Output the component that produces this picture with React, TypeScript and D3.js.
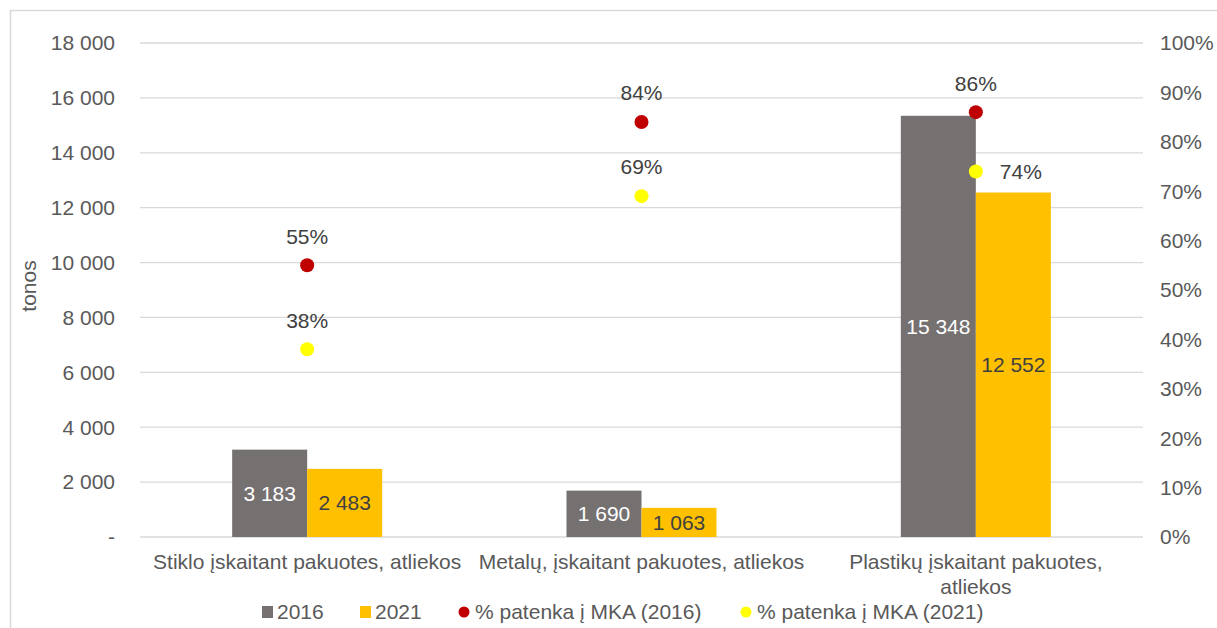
import React from "react";
import * as d3 from "d3";

const categories = [
  ["Stiklo įskaitant pakuotes, atliekos"],
  ["Metalų, įskaitant pakuotes, atliekos"],
  ["Plastikų įskaitant pakuotes,", "atliekos"],
];
const series2016 = [3183, 1690, 15348];
const series2021 = [2483, 1063, 12552];
const pct2016 = [0.55, 0.84, 0.86];
const pct2021 = [0.38, 0.69, 0.74];
const leftTicks = [0, 2000, 4000, 6000, 8000, 10000, 12000, 14000, 16000, 18000];
const rightTicks = [0, 0.1, 0.2, 0.3, 0.4, 0.5, 0.6, 0.7, 0.8, 0.9, 1.0];
const legendLabels = ["2016", "2021", "% patenka į MKA (2016)", "% patenka į MKA (2021)"];

const W = 1217, H = 628;
const M = { left: 140, right: 1143, top: 43, bottom: 537 };
const FONT = "'Liberation Sans', Arial, sans-serif";
const TXT = "#595959";
const FS = 21;

const fmt = (v: number) => (v === 0 ? "-" : d3.format(",")(v).replace(/,/g, " "));

export default function App() {
  const x = d3.scaleBand<number>().domain([0, 1, 2]).range([M.left, M.right]);
  const yL = d3.scaleLinear().domain([0, 18000]).range([M.bottom, M.top]);
  const yR = d3.scaleLinear().domain([0, 1]).range([M.bottom, M.top]);
  const barW = 75;

  const legendItems = [
    { x: 262, tx: 277, label: legendLabels[0], color: "#767171", shape: "rect" },
    { x: 360, tx: 375, label: legendLabels[1], color: "#FFC000", shape: "rect" },
    { x: 459, tx: 475, label: legendLabels[2], color: "#C00000", shape: "circle" },
    { x: 741, tx: 757, label: legendLabels[3], color: "#FFFF00", shape: "circle" },
  ];

  return (
    <svg width={W} height={H} style={{ position: "absolute", left: 0, top: 0, display: "block" }} fontFamily={FONT}>
      <rect x={0} y={0} width={W} height={H} fill="#fff" />
      <rect x={10.5} y={10.5} width={W + 20} height={H + 20} fill="none" stroke="#d9d9d9" strokeWidth={1.5} />
      {leftTicks.map((t) => (
        <g key={t}>
          <line x1={M.left} x2={M.right} y1={yL(t)} y2={yL(t)} stroke="#d9d9d9" strokeWidth={1.3} />
          <text x={115} y={yL(t)} dy="0.35em" textAnchor="end" fontSize={FS} fill={TXT}>{fmt(t)}</text>
        </g>
      ))}
      {rightTicks.map((t) => (
        <text key={t} x={1160} y={yR(t)} dy="0.35em" textAnchor="start" fontSize={FS} fill={TXT}>
          {d3.format(".0%")(t)}
        </text>
      ))}
      <text transform={`translate(36,${(M.top + M.bottom) / 2 - 4}) rotate(-90)`} textAnchor="middle" fontSize={FS} fill={TXT}>tonos</text>
      {categories.map((c, i) => {
        const cx = x(i)! + x.bandwidth() / 2;
        return (
          <g key={i}>
            <rect x={cx - barW} y={yL(series2016[i])} width={barW} height={yL(0) - yL(series2016[i])} fill="#767171" />
            <rect x={cx} y={yL(series2021[i])} width={barW} height={yL(0) - yL(series2021[i])} fill="#FFC000" />
            <text x={cx - barW / 2} y={(yL(series2016[i]) + yL(0)) / 2} dy="0.35em" textAnchor="middle" fontSize={FS} fill="#fff">{fmt(series2016[i])}</text>
            <text x={cx + barW / 2} y={(yL(series2021[i]) + yL(0)) / 2} dy="0.35em" textAnchor="middle" fontSize={FS} fill="#404040">{fmt(series2021[i])}</text>
            {c.map((line, k) => (
              <text key={k} x={cx} y={562 + k * 25} dy="0.35em" textAnchor="middle" fontSize={FS} fill={TXT}>{line}</text>
            ))}
          </g>
        );
      })}
      {categories.map((_, i) => {
        const cx = x(i)! + x.bandwidth() / 2;
        const last = i === 2;
        return (
          <g key={"p" + i}>
            <circle cx={cx} cy={yR(pct2016[i])} r={7} fill="#C00000" />
            <text x={cx} y={yR(pct2016[i]) - 29} dy="0.35em" textAnchor="middle" fontSize={FS} fill="#404040">{d3.format(".0%")(pct2016[i])}</text>
            <circle cx={cx} cy={yR(pct2021[i])} r={7} fill="#FFFF00" />
            <text x={last ? cx + 24 : cx} y={last ? yR(pct2021[i]) : yR(pct2021[i]) - 29} dy="0.35em" textAnchor={last ? "start" : "middle"} fontSize={FS} fill="#404040">{d3.format(".0%")(pct2021[i])}</text>
          </g>
        );
      })}
      {legendItems.map((d) => (
        <g key={d.label}>
          {d.shape === "rect" ? (
            <rect x={d.x} y={606} width={11} height={12} fill={d.color} />
          ) : (
            <circle cx={d.x + 5} cy={612} r={5.5} fill={d.color} />
          )}
          <text x={d.tx} y={612} dy="0.35em" fontSize={FS} fill={TXT}>{d.label}</text>
        </g>
      ))}
    </svg>
  );
}
